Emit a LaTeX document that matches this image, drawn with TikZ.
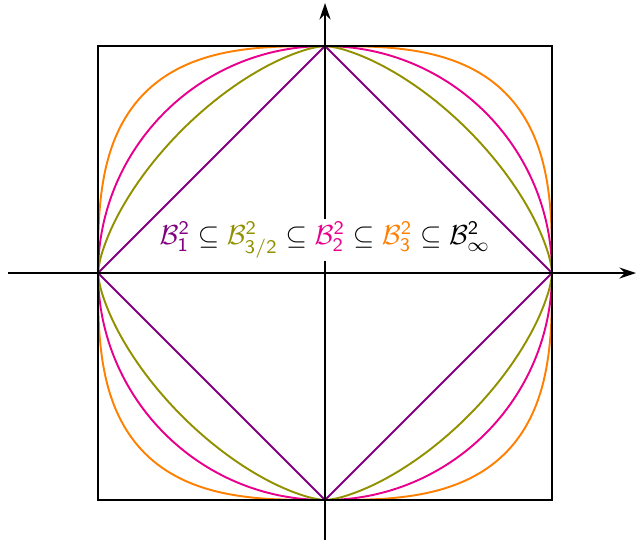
\documentclass[tikz,border=0pt]{standalone}
\usepackage{amssymb}
\usetikzlibrary{arrows.meta}

\definecolor{pone}{RGB}{128,0,128}
\definecolor{pthreehalf}{RGB}{145,145,0}
\definecolor{ptwo}{RGB}{232,0,140}
\definecolor{pthree}{RGB}{255,128,0}

\newcommand*{\xmin}{-1.396}
\newcommand*{\xmax}{1.37}
\newcommand*{\ymin}{-1.176}
\newcommand*{\ymax}{1.19}
\newcommand*{\ball}[3]{{\color{#1}\mathcal{B}_{\mathsf{#2}}^{\mathsf{#3}}}}

\begin{document}
\begin{tikzpicture}
[
	ballcurve/.style={line width=0.7pt,smooth,samples=361,domain=0:360},
	axis/.style={-{Stealth[length=6pt,width=4pt]},thick},
	x=2.9cm,y=2.9cm
]

	% fix margins
	\useasboundingbox (-1.432,-1.185) rectangle (1.370,1.203);

	% unit balls
	\draw[ballcurve,pthree] plot ({sign(cos(\x))*abs(cos(\x))^(2/3)},{sign(sin(\x))*abs(sin(\x))^(2/3)});
	\draw[ballcurve,ptwo] (0,0) circle (1);
	\draw[ballcurve,pthreehalf] plot ({sign(cos(\x))*abs(cos(\x))^(4/3)},{sign(sin(\x))*abs(sin(\x))^(4/3)});
	\draw[ballcurve,pone] (1,0) -- (0,1) -- (-1,0) -- (0,-1) -- cycle;

	% infinity ball
	\draw[thick] (-1,-1) rectangle (1,1);

	% axes
	\coordinate (xs) at (\xmin,0);
	\coordinate (xe) at (\xmax,0);
	\coordinate (ys) at (0,\ymin);
	\coordinate (ye) at (0,\ymax);
	\draw[axis] (xs) -- (xe);
	\draw[axis] (ys) -- (ye);

	% inclusions
	\node[fill=white,inner sep=1pt] (incl) at (0,0.145)
		{$\ball{pone}{1}{2} \subseteq \ball{pthreehalf}{3/2}{2} \subseteq \ball{ptwo}{2}{2} \subseteq \ball{pthree}{3}{2} \subseteq \ball{black}{\infty}{2}$};

\end{tikzpicture}
\end{document}
